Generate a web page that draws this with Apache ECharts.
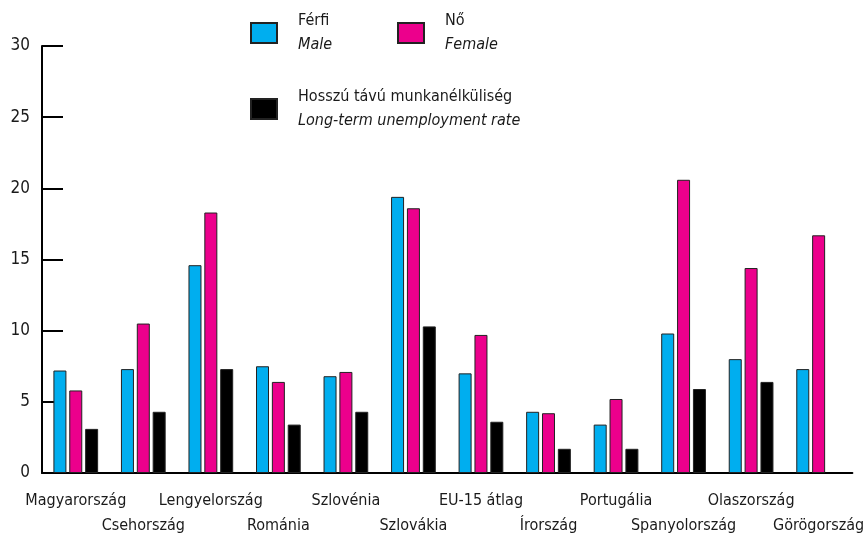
<!DOCTYPE html>
<html>
<head>
<meta charset="utf-8">
<script src="https://cdn.jsdelivr.net/npm/echarts@6/dist/echarts.min.js"></script>
<style>
  html, body { margin: 0; padding: 0; background: #fff; }
  #chart { width: 867px; height: 538px; }
</style>
</head>
<body>
<div id="chart"></div>
<script>
// Munkanélküliségi ráta nemek szerint és hosszú távú munkanélküliség (%)
const countries = ['Magyarország', 'Csehország', 'Lengyelország', 'Románia', 'Szlovénia', 'Szlovákia',
  'EU-15 átlag', 'Írország', 'Portugália', 'Spanyolország', 'Olaszország', 'Görögország'];
const male = [7.2, 7.3, 14.6, 7.5, 6.8, 19.4, 7.0, 4.3, 3.4, 9.8, 8.0, 7.3];
const female = [5.8, 10.5, 18.3, 6.4, 7.1, 18.6, 9.7, 4.2, 5.2, 20.6, 14.4, 16.7];
const longTerm = [3.1, 4.3, 7.3, 3.4, 4.3, 10.3, 3.6, 1.7, 1.7, 5.9, 6.4, null];
const yTicks = [0, 5, 10, 15, 20, 25, 30];

const FONT = "'Liberation Sans Narrow', 'DejaVu Sans Condensed', 'Roboto', sans-serif";
const legendTexts = {
  'Férfi': ['Férfi', 'Male'],
  'Nő': ['Nő', 'Female'],
  'Hosszú távú munkanélküliség': ['Hosszú távú munkanélküliség', 'Long-term unemployment rate']
};

function legendCfg(name, left, top) {
  return {
    data: [{ name: name, icon: 'rect' }],
    left: left,
    top: top,
    padding: 0,
    itemWidth: 26,
    itemHeight: 20,
    selectedMode: false,
    formatter: n => '{a|' + legendTexts[n][0] + '}\n{b|' + legendTexts[n][1] + '}',
    textStyle: {
      fontFamily: FONT,
      color: '#1a1a1a',
      rich: {
        a: { fontFamily: FONT, fontSize: 16, lineHeight: 24, padding: [0, 0, 0, 16], color: '#1a1a1a' },
        b: { fontFamily: FONT, fontSize: 16, lineHeight: 24, fontStyle: 'italic', padding: [0, 0, 0, 16], color: '#1a1a1a' }
      }
    }
  };
}

const chart = echarts.init(document.getElementById('chart'));
const barStyle = (color) => ({ color: color, borderColor: '#222', borderWidth: 1 });

chart.setOption({
  animation: false,
  backgroundColor: '#fff',
  textStyle: { fontFamily: FONT },
  legend: [
    legendCfg('Férfi', 250, 13),
    legendCfg('Nő', 397, 13),
    legendCfg('Hosszú távú munkanélküliség', 250, 89)
  ],
  grid: { left: 42, right: 9, top: 46, bottom: 64, containLabel: false },
  xAxis: {
    type: 'category',
    data: countries,
    axisLine: { lineStyle: { color: '#000', width: 2 } },
    axisTick: { inside: true, length: 7, lineStyle: { color: '#000', width: 2 } },
    axisLabel: {
      interval: 0,
      margin: 15,
      fontFamily: FONT,
      fontSize: 16,
      lineHeight: 25,
      color: '#1a1a1a',
      formatter: (v, i) => (i % 2 === 1 ? '\n' + v : v)
    }
  },
  yAxis: {
    type: 'value',
    min: yTicks[0],
    max: yTicks[yTicks.length - 1],
    interval: 5,
    splitLine: { show: false },
    axisLine: { show: true, lineStyle: { color: '#000', width: 2 } },
    axisTick: { show: true, inside: true, length: 21, lineStyle: { color: '#000', width: 2 } },
    axisLabel: { margin: 12, fontFamily: FONT, fontSize: 17, color: '#1a1a1a' }
  },
  series: [
    { name: 'Férfi', type: 'bar', data: male, barWidth: 13, barGap: '22%', itemStyle: barStyle('#00AEEF') },
    { name: 'Nő', type: 'bar', data: female, barWidth: 13, barGap: '22%', itemStyle: barStyle('#EC008C') },
    { name: 'Hosszú távú munkanélküliség', type: 'bar', data: longTerm, barWidth: 13, barGap: '22%', itemStyle: barStyle('#000') }
  ]
});
</script>
</body>
</html>
